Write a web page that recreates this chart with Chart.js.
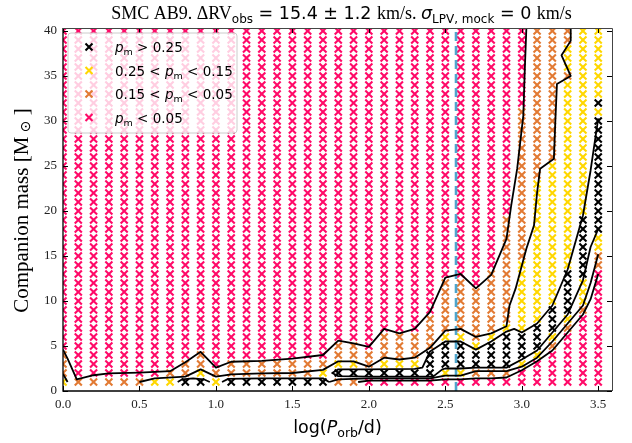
<!DOCTYPE html>
<html><head><meta charset="utf-8">
<script src="https://cdn.jsdelivr.net/npm/chart.js@4.4.1/dist/chart.umd.min.js"></script>
<style>html,body{margin:0;padding:0;background:#fff;}canvas{display:block;}</style>
</head><body>
<canvas id="c" width="632" height="443"></canvas>
<script>
// ---------------- data ----------------
const periodGrid = [0.0,0.1,0.2,0.3,0.4,0.5,0.6,0.7,0.8,0.9,1.0,1.1,1.2,1.3,1.4,1.5,1.6,1.7,1.8,1.9,2.0,2.1,2.2,2.3,2.4,2.5,2.6,2.7,2.8,2.9,3.0,3.1,3.2,3.3,3.4,3.5];
const massGrid = [1,2,3,4,5,6,7,8,9,10,11,12,13,14,15,16,17,18,19,20,21,22,23,24,25,26,27,28,29,30,31,32,33,34,35,36,37,38,39,40];
const xTickValues = [0.0,0.5,1.0,1.5,2.0,2.5,3.0,3.5];
const yTickValues = [0,5,10,15,20,25,30,35,40];
const classCodes = ['K','Y','O','P'];
// classes per period column, run-length coded from mass 1 upward
const columnClasses = [
  "Y1 O3 P36","O1 P39","O1 P39","O1 P39","O1 P39","O1 P39","Y1 P39","Y1 O1 P38",
  "K1 O2 P37","K1 Y1 O2 P36","Y1 O1 P38","K1 O2 P37","K1 O2 P37","K1 O2 P37","K1 O2 P37","K1 O2 P37",
  "K1 O2 P37","K1 Y1 O1 P37","O1 K1 Y1 O2 P35","O1 K1 Y1 O2 P35","P1 K1 O2 P36","P1 K1 Y1 O3 P34",
  "P1 K1 Y1 O3 P34","P1 K1 Y1 O3 P34","P1 K3 O4 P32","P1 Y1 K3 Y1 O6 P28","P1 Y1 K3 Y1 O6 P28",
  "P1 O1 K2 Y1 O6 P29","P1 O1 K3 Y1 O7 P27","P1 O1 K4 Y1 O12 P21","P2 Y1 K3 Y8 O17 P9",
  "P3 Y1 K3 Y16 O17","P4 O1 Y1 K3 Y16 O15","P6 O1 Y1 K5 Y21 O1 Y3 O2","P8 O1 Y3 K7 Y21",
  "P13 O2 Y2 K13 Y1 K1 Y8"
];
const observedLogP = 2.57;
// contour lines (logP, mass)
const contour005Upper = [[0.0,4.6],[0.03,3.6],[0.09,1.3],[0.2,1.75],[0.3,1.95],[0.5,2.05],[0.7,2.2],[0.8,3.2],[0.9,4.35],[1.0,2.6],[1.1,3.25],[1.3,3.35],[1.5,3.6],[1.7,4.0],[1.8,5.6],[1.9,5.3],[2.0,4.9],[2.1,6.9],[2.2,6.4],[2.3,6.9],[2.4,8.8],[2.5,12.6],[2.6,13.0],[2.7,11.4],[2.8,12.9],[2.9,16.9],[2.93,20.5],[2.97,24.7],[3.01,30.6],[3.02,35.8],[3.03,40.3]];
const contour005Lower = [[1.93,1.0],[2.0,1.15],[2.4,1.15],[2.5,1.3],[2.6,1.3],[2.7,1.4],[2.8,1.4],[2.9,1.5],[3.0,2.3],[3.1,3.3],[3.2,4.5],[3.3,6.5],[3.4,8.5],[3.45,10.2],[3.5,13.0]];
const contour015Edge = [[0.0,1.9],[0.03,1.0]];
const contour015Upper = [[0.5,1.0],[0.6,1.4],[0.8,1.6],[0.9,2.4],[1.0,1.6],[1.1,1.85],[1.3,1.95],[1.5,2.0],[1.7,2.35],[1.8,3.3],[1.9,3.3],[2.0,2.7],[2.1,3.7],[2.2,3.5],[2.3,3.7],[2.4,4.8],[2.5,6.7],[2.6,6.9],[2.7,6.0],[2.8,6.4],[2.9,7.2],[2.92,9.5],[2.96,11.4],[3.03,15.8],[3.08,18.4],[3.1,22.0],[3.12,24.7],[3.21,25.8],[3.22,30.2],[3.23,34.1],[3.32,35.0],[3.26,37.3],[3.32,38.9],[3.32,40.3]];
const contour015Lower = [[1.74,1.0],[1.8,1.3],[2.0,1.4],[2.4,1.4],[2.5,1.7],[2.6,1.7],[2.7,2.2],[2.8,2.2],[2.9,2.2],[3.0,2.7],[3.1,3.7],[3.2,5.5],[3.3,7.5],[3.4,9.5],[3.45,12.0],[3.5,15.2]];
const contour025A = [[0.75,1.0],[0.78,1.3],[0.85,1.4],[0.92,1.3],[0.96,1.0]];
const contour025B = [[1.04,1.0],[1.08,1.35],[1.3,1.4],[1.5,1.4],[1.7,1.4],[1.74,1.0]];
const contour025C = [[3.5,30.3],[3.45,24.5],[3.4,19.5],[3.3,13.5],[3.2,9.5],[3.1,7.5],[3.0,6.5],[2.95,6.9],[2.9,6.6],[2.8,5.5],[2.7,4.6],[2.6,5.5],[2.5,5.5],[2.4,4.4],[2.35,2.6],[2.3,2.45],[2.0,2.4],[1.8,2.4],[1.76,2.0],[1.8,1.65],[2.0,1.6],[2.3,1.6],[2.42,1.6],[2.48,2.4],[2.5,2.5],[2.6,2.5],[2.7,2.6],[2.8,2.6],[2.9,2.6],[3.0,3.5],[3.1,4.5],[3.2,6.5],[3.3,8.5],[3.4,12.3],[3.45,16.0],[3.5,18.0]];

// ---------------- styles ----------------
const classStyle = {
  K: {color:'#000000'},
  Y: {color:'#ffd700'},
  O: {color:'#e27a33'},
  P: {color:'#ff0a68'}
};
const SERIF = '"Liberation Serif", "Times New Roman", serif';
const SANS = '"DejaVu Sans", sans-serif';

// ---------------- build datasets ----------------
function decodeRuns(s) {
  const out = [];
  s.trim().split(/\s+/).forEach(tok => { const c = tok[0]; const n = parseInt(tok.slice(1), 10); for (let i = 0; i < n; i++) out.push(c); });
  return out;
}
const pointsByClass = {K:[],Y:[],O:[],P:[]};
columnClasses.forEach((col, i) => {
  const cls = decodeRuns(col);
  cls.forEach((c, j) => { if (j < massGrid.length) pointsByClass[c].push({x: periodGrid[i], y: massGrid[j]}); });
});
const toXY = arr => arr.map(p => ({x:p[0], y:p[1]}));
const datasets = [];
[contour005Upper, contour005Lower, contour015Edge, contour015Upper, contour015Lower, contour025A, contour025B, contour025C].forEach(line => {
  datasets.push({type:'line', data: toXY(line), showLine:true, borderColor:'#000', borderWidth:1.8, pointRadius:0, tension:0, fill:false, clip:0, order:0, borderJoinStyle:'round'});
});
datasets.push({type:'line', data:[{x:observedLogP,y:0},{x:observedLogP,y:40.33}], showLine:true, borderColor:'#4ea5cc', borderWidth:2.6, borderDash:[9,5], pointRadius:0, clip:0, order:1});
['P','O','Y','K'].forEach((c, k) => {
  datasets.push({type:'scatter', data: pointsByClass[c], pointStyle:'crossRot', radius:5, borderWidth:2.1, borderColor: classStyle[c].color, backgroundColor: classStyle[c].color, clip:0, order:2+k});
});

// ---------------- text helpers ----------------
function richWidth(ctx, parts) { let w = 0; parts.forEach(p => { ctx.font = p.f; p.w = ctx.measureText(p.t).width; w += p.w; }); return w; }
function drawRich(ctx, parts, x, y, align) {
  const w = richWidth(ctx, parts);
  let cx = align === 'center' ? x - w / 2 : x;
  parts.forEach(p => { ctx.font = p.f; ctx.fillText(p.t, cx, y + (p.dy || 0)); cx += p.w; });
}
function cross(ctx, x, y, h) { ctx.beginPath(); ctx.moveTo(x-h,y-h); ctx.lineTo(x+h,y+h); ctx.moveTo(x+h,y-h); ctx.lineTo(x-h,y+h); ctx.stroke(); }

const frame = {
  id: 'frame',
  afterDatasetsDraw(chart) {
    const {ctx, chartArea: a, scales: {x, y}} = chart;
    ctx.save();
    // ticks (inward, all sides)
    ctx.strokeStyle = '#000'; ctx.lineWidth = 1;
    ctx.beginPath();
    xTickValues.forEach(v => { const px = Math.round(x.getPixelForValue(v)) + 0.5; ctx.moveTo(px, a.bottom); ctx.lineTo(px, a.bottom - 5); ctx.moveTo(px, a.top); ctx.lineTo(px, a.top + 5); });
    yTickValues.forEach(v => { const py = Math.round(y.getPixelForValue(v)) + 0.5; ctx.moveTo(a.left, py); ctx.lineTo(a.left + 5, py); ctx.moveTo(a.right, py); ctx.lineTo(a.right - 5, py); });
    ctx.stroke();
    // spines
    ctx.lineWidth = 1.3; ctx.strokeStyle = '#000';
    ctx.beginPath(); ctx.moveTo(a.left, a.top); ctx.lineTo(a.left, a.bottom); ctx.lineTo(a.right, a.bottom); ctx.stroke();
    ctx.lineWidth = 1; ctx.strokeStyle = '#444';
    ctx.beginPath(); ctx.moveTo(a.left, a.top + 0.5); ctx.lineTo(a.right + 0.5, a.top + 0.5); ctx.lineTo(a.right + 0.5, a.bottom); ctx.stroke();

    // legend
    const lx = a.left + 5, ly = a.top + 5, lw = 169, lh = 100, r = 3;
    ctx.beginPath();
    ctx.moveTo(lx + r, ly); ctx.lineTo(lx + lw - r, ly); ctx.quadraticCurveTo(lx + lw, ly, lx + lw, ly + r);
    ctx.lineTo(lx + lw, ly + lh - r); ctx.quadraticCurveTo(lx + lw, ly + lh, lx + lw - r, ly + lh);
    ctx.lineTo(lx + r, ly + lh); ctx.quadraticCurveTo(lx, ly + lh, lx, ly + lh - r);
    ctx.lineTo(lx, ly + r); ctx.quadraticCurveTo(lx, ly, lx + r, ly); ctx.closePath();
    ctx.fillStyle = 'rgba(255,255,255,0.8)'; ctx.fill();
    ctx.strokeStyle = '#cccccc'; ctx.lineWidth = 1; ctx.stroke();
    const fs = 13.5, fsub = 9.5;
    const entries = [
      {c:'K', parts:[{t:'p', f:`italic ${fs}px ${SANS}`},{t:'m', f:`${fsub}px ${SANS}`, dy:3},{t:' > 0.25', f:`${fs}px ${SANS}`}]},
      {c:'Y', parts:[{t:'0.25 < ', f:`${fs}px ${SANS}`},{t:'p', f:`italic ${fs}px ${SANS}`},{t:'m', f:`${fsub}px ${SANS}`, dy:3},{t:' < 0.15', f:`${fs}px ${SANS}`}]},
      {c:'O', parts:[{t:'0.15 < ', f:`${fs}px ${SANS}`},{t:'p', f:`italic ${fs}px ${SANS}`},{t:'m', f:`${fsub}px ${SANS}`, dy:3},{t:' < 0.05', f:`${fs}px ${SANS}`}]},
      {c:'P', parts:[{t:'p', f:`italic ${fs}px ${SANS}`},{t:'m', f:`${fsub}px ${SANS}`, dy:3},{t:' < 0.05', f:`${fs}px ${SANS}`}]}
    ];
    entries.forEach((e, i) => {
      const yy = ly + 14 + i * 23.5;
      ctx.strokeStyle = classStyle[e.c].color; ctx.lineWidth = 2.1;
      cross(ctx, lx + 21, yy, 3.5);
      ctx.fillStyle = '#000'; ctx.textBaseline = 'alphabetic';
      drawRich(ctx, e.parts, lx + 47, yy + 5, 'left');
    });
    ctx.restore();
  },
  afterDraw(chart) {
    const {ctx, chartArea: a} = chart;
    ctx.save();
    ctx.fillStyle = '#000'; ctx.textBaseline = 'alphabetic';
    // title
    const ts = 17.5, tsub = 12;
    drawRich(ctx, [
      {t:'SMC AB9. ΔRV', f:`${ts+0.5}px ${SERIF}`},
      {t:'obs', f:`${tsub}px ${SANS}`, dy:4},
      {t:' = 15.4 ± 1.2 ', f:`${ts}px ${SANS}`},
      {t:'km/s. ', f:`${ts+0.5}px ${SERIF}`},
      {t:'σ', f:`italic ${ts}px ${SANS}`},
      {t:'LPV, mock', f:`${tsub}px ${SANS}`, dy:4},
      {t:' = 0 ', f:`${ts}px ${SANS}`},
      {t:'km/s', f:`${ts+0.5}px ${SERIF}`}
    ], (a.left + a.right) / 2 + 4, 19, 'center');
    // x title
    drawRich(ctx, [
      {t:'log(', f:`17.5px ${SANS}`},
      {t:'P', f:`italic 17.5px ${SANS}`},
      {t:'orb', f:`12.5px ${SANS}`, dy:4},
      {t:'/d)', f:`17.5px ${SANS}`}
    ], (a.left + a.right) / 2, 433, 'center');
    // y title
    ctx.translate(28, (a.top + a.bottom) / 2 + 1);
    ctx.rotate(-Math.PI / 2);
    drawRich(ctx, [
      {t:'Companion mass [M', f:`21px ${SERIF}`},
      {t:' ⊙', f:`14px ${SANS}`, dy:2},
      {t:' ]', f:`21px ${SERIF}`}
    ], 0, 0, 'center');
    ctx.restore();
  }
};

new Chart(document.getElementById('c'), {
  type: 'scatter',
  data: { datasets },
  options: {
    responsive: false, animation: false, events: [],
    layout: { padding: { top: 28, right: 20, left: 0, bottom: 0 } },
    plugins: { legend: {display:false}, tooltip: {enabled:false}, title: {display:false} },
    scales: {
      x: {
        type: 'linear', min: 0, max: 3.59,
        afterBuildTicks: s => { s.ticks = xTickValues.map(v => ({value: v})); },
        ticks: { callback: v => Number(v).toFixed(1), font: {family: SERIF, size: 13}, color: '#222', maxRotation: 0, autoSkip: false, padding: 6 },
        grid: { display: false, drawTicks: false }, border: { display: false },
        afterFit: s => { s.height = 52; }
      },
      y: {
        type: 'linear', min: 0, max: 40.33,
        afterBuildTicks: s => { s.ticks = yTickValues.map(v => ({value: v})); },
        ticks: { callback: v => String(v), font: {family: SERIF, size: 13}, color: '#222', autoSkip: false, padding: 6 },
        grid: { display: false, drawTicks: false }, border: { display: false },
        afterFit: s => { s.width = 63; }
      }
    }
  },
  plugins: [frame]
});
</script>
</body></html>
